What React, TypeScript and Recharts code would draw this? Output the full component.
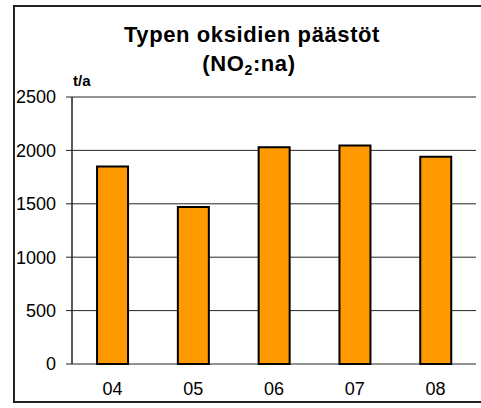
import { BarChart, Bar, XAxis, YAxis, CartesianGrid } from 'recharts';

const years = ['04', '05', '06', '07', '08'];
const emissions = [1850, 1470, 2030, 2045, 1940];
const yTicks = [0, 500, 1000, 1500, 2000, 2500];
const boundaryTicks = [0, 1, 2, 3, 4, 5];

const FONT = '"Liberation Sans", Arial, sans-serif';

export default function App() {
  const chartData = years.map((year, i) => ({ year, value: emissions[i] }));

  return (
    <div style={{ position: 'absolute', left: 0, top: 0, width: 481, height: 408, background: '#fff', overflow: 'hidden' }}>
      {/* outer frame */}
      <div
        style={{
          position: 'absolute',
          left: 13,
          top: 5,
          width: 480,
          height: 398,
          border: '2px solid #222',
          boxSizing: 'border-box',
        }}
      />
      <svg width={481} height={408} style={{ position: 'absolute', left: 0, top: 0 }} fontFamily={FONT}>
        <text x={252} y={42} textAnchor="middle" fontSize={22} fontWeight="bold" letterSpacing={0.6}>
          Typen oksidien päästöt
        </text>
        <text x={249} y={71} textAnchor="middle" fontSize={22} fontWeight="bold" letterSpacing={0.6}>
          (NO<tspan fontSize={14} dy={4}>2</tspan>
          <tspan dy={-4}>:na)</tspan>
        </text>
        <text x={73} y={86} fontSize={15} fontWeight="bold">
          t/a
        </text>
      </svg>
      <div style={{ position: 'absolute', left: 0, top: 0 }}>
        <BarChart
          width={481}
          height={408}
          data={chartData}
          margin={{ top: 97, right: 5, bottom: 14, left: 12 }}
          barCategoryGap="31%"
        >
          <CartesianGrid vertical={false} stroke="#000" strokeOpacity={0.85} />
          <XAxis
            xAxisId="bounds"
            type="number"
            domain={[0, 5]}
            ticks={boundaryTicks}
            height={0}
            tickSize={5}
            tickFormatter={() => ''}
            axisLine={{ stroke: '#222', strokeWidth: 1.5 }}
            tickLine={{ stroke: '#222' }}
          />
          <XAxis
            xAxisId="cat"
            dataKey="year"
            height={30}
            axisLine={false}
            tickLine={false}
            tickMargin={12}
            tick={{ fill: '#000', fontSize: 18, fontFamily: FONT }}
          />
          <YAxis
            domain={[0, 2500]}
            ticks={yTicks}
            width={60}
            tickSize={6}
            tickMargin={10}
            axisLine={{ stroke: '#222', strokeWidth: 1.5 }}
            tickLine={{ stroke: '#222' }}
            tick={{ fill: '#000', fontSize: 18, fontFamily: FONT }}
          />
          <YAxis
            yAxisId="frame"
            orientation="right"
            width={0}
            tick={false}
            tickLine={false}
            axisLine={{ stroke: '#222', strokeWidth: 1.5 }}
          />
          <Bar
            dataKey="value"
            xAxisId="cat"
            fill="#FF9900"
            stroke="#000"
            strokeWidth={2}
            isAnimationActive={false}
          />
        </BarChart>
      </div>
    </div>
  );
}
